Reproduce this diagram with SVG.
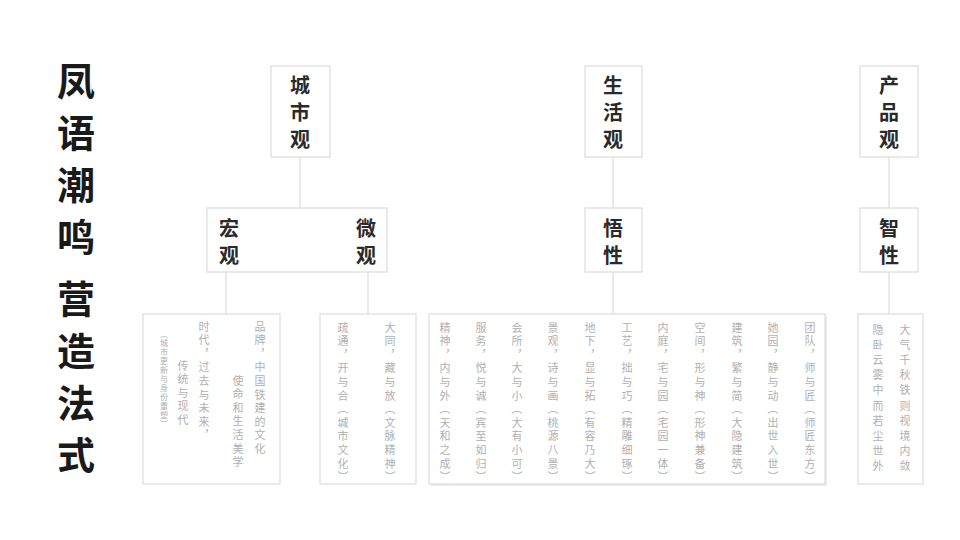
<svg xmlns="http://www.w3.org/2000/svg" width="960" height="540" viewBox="0 0 960 540">
<style>
.box{fill:#fff;stroke:#dcdcdc;stroke-width:1.2}
.line{stroke:#dcdcdc;stroke-width:1.2;fill:none}
.title{font-family:"Noto Sans CJK SC",sans-serif;font-weight:700;font-size:38px;fill:#1a1a1a;writing-mode:vertical-rl;letter-spacing:14px}
.head{font-family:"Noto Sans CJK SC",sans-serif;font-weight:700;font-size:20px;fill:#2a2a2a;writing-mode:vertical-rl;letter-spacing:7px}
.body{font-family:"Noto Sans CJK SC",sans-serif;font-size:11px;fill:#b0b0b0;writing-mode:vertical-rl;letter-spacing:2.6px}
.wide{letter-spacing:4.2px}
.small{font-family:"Noto Sans CJK SC",sans-serif;font-size:8px;fill:#b0b0b0;writing-mode:vertical-rl;letter-spacing:1px}
</style>
<rect width="960" height="540" fill="#fff"/>
<g id="title">
<text class="title" x="76" y="62">凤语潮鸣</text>
<text class="title" x="76" y="280">营造法式</text>
</g>
<g id="connectors">
<line class="line" x1="300" y1="157" x2="300" y2="208"/>
<line class="line" x1="226" y1="272" x2="226" y2="314"/>
<line class="line" x1="368" y1="272" x2="368" y2="314"/>
<line class="line" x1="613" y1="157" x2="613" y2="208"/>
<line class="line" x1="613" y1="272" x2="613" y2="314"/>
<line class="line" x1="889" y1="157" x2="889" y2="208"/>
<line class="line" x1="889" y1="272" x2="889" y2="314"/>
</g>
<g id="node-city">
<rect class="box" x="271" y="66" width="59" height="91"/>
<text class="head" x="300" y="75">城市观</text>
</g>
<g id="node-macro-micro">
<rect class="box" x="207" y="208" width="180" height="64"/>
<text class="head" x="229" y="218">宏观</text>
<text class="head" x="366" y="218">微观</text>
</g>
<g id="node-life">
<rect class="box" x="585" y="66" width="57" height="91"/>
<text class="head" x="613" y="75">生活观</text>
</g>
<g id="node-wuxing">
<rect class="box" x="585" y="208" width="57" height="64"/>
<text class="head" x="613" y="218">悟性</text>
</g>
<g id="node-product">
<rect class="box" x="860" y="66" width="58" height="91"/>
<text class="head" x="889" y="75">产品观</text>
</g>
<g id="node-zhixing">
<rect class="box" x="860" y="208" width="58" height="64"/>
<text class="head" x="889" y="218">智性</text>
</g>
<g id="node-macro-text">
<rect class="box" x="143" y="314" width="137" height="170"/>
<text class="body" x="260" y="321">品牌，中国铁建的文化</text>
<text class="body" x="238" y="375">使命和生活美学</text>
<text class="body" x="204" y="321">时代，过去与未来，</text>
<text class="body" x="183" y="360">传统与现代</text>
<text class="small" x="164" y="330">（城市更新与身份重塑）</text>
</g>
<g id="node-micro-text">
<rect class="box" x="320" y="314" width="96" height="170"/>
<text class="body" x="390" y="322">大同，藏与放（文脉精神）</text>
<text class="body" x="343" y="322">疏通，开与合（城市文化）</text>
</g>
<g id="node-life-text">
<rect x="431" y="316" width="396" height="170" fill="#ececec"/>
<rect class="box" x="429" y="314" width="396" height="170"/>
<text class="body" x="810" y="322">团队，师与匠（师匠东方）</text>
<text class="body" x="773" y="322">她园，静与动（出世入世）</text>
<text class="body" x="737" y="322">建筑，繁与简（大隐建筑）</text>
<text class="body" x="700" y="322">空间，形与神（形神兼备）</text>
<text class="body" x="663" y="322">内庭，宅与园（宅园一体）</text>
<text class="body" x="627" y="322">工艺，拙与巧（精雕细琢）</text>
<text class="body" x="590" y="322">地下，显与拓（有容乃大）</text>
<text class="body" x="553" y="322">景观，诗与画（桃源八景）</text>
<text class="body" x="517" y="322">会所，大与小（大有小可）</text>
<text class="body" x="481" y="322">服务，悦与诚（宾至如归）</text>
<text class="body" x="445" y="322">精神，内与外（天和之成）</text>
</g>
<g id="node-product-text">
<rect class="box" x="858" y="314" width="65" height="170"/>
<text class="body wide" x="905" y="324">大气千秋铁则视境内敛</text>
<text class="body wide" x="878" y="324">隐卧云雾中而若尘世外</text>
</g>
</svg>
